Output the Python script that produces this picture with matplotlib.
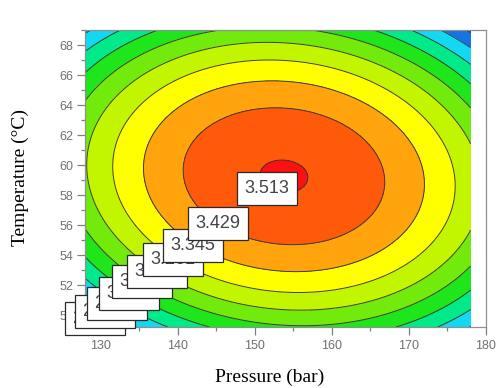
import numpy as np
import matplotlib
matplotlib.use("Agg")
import matplotlib.pyplot as plt
from matplotlib.patches import Rectangle
from matplotlib.ticker import MultipleLocator

# response surface (quadratic model, max near 154 bar / 59 C)
y_peak   = 3.518
p_peak   = 153.8
t_peak   = 59.25
k_p      = 5.25e-4      # curvature along pressure
k_t      = 4.31e-3      # curvature along temperature
k_pt     = -2.54e-4     # interaction

p_range = [128.0, 178.0]
t_range = [49.2, 69.0]

levels = [2.757, 2.841, 2.925, 3.009, 3.093, 3.177, 3.261, 3.345, 3.429, 3.513]
label_text = ["3.513", "3.429", "3.345", "3.261", "3.177",
              "3.093", "3.009", "2.925", "2.841", "2.757"]

band_colors = ["#0046c8", "#1673e6", "#12d8f4", "#00ea8a", "#1ee61a", "#72ea0c",
               "#c2f600", "#ffff00", "#ffa40c", "#ff5a0a", "#ff1010"]

# label boxes (figure pixels: left, top)
box_left = [237, 188, 163, 143, 127, 112, 99, 87, 75, 65]
box_top  = [172, 207, 229, 243, 255, 265, 277, 287, 295, 302]
box_w, box_h = 60, 33

W, H = 499, 388
fig = plt.figure(figsize=(W / 100, H / 100), dpi=100)
ax = fig.add_axes([85 / W, 1 - 327 / H, (486 - 85) / W, (327 - 30) / H])

P, T = np.meshgrid(np.linspace(*p_range, 301), np.linspace(*t_range, 301))
dP, dT = P - p_peak, T - t_peak
Z = y_peak - k_p * dP**2 - k_t * dT**2 + k_pt * dP * dT

bounds = [Z.min() - 1] + levels + [Z.max() + 1]
ax.contourf(P, T, Z, levels=bounds, colors=band_colors)
ax.contour(P, T, Z, levels=levels, colors="#3a3a3a", linewidths=0.7)

ax.set_xlim(128, 180)
ax.set_ylim(49.2, 69)
ax.set_xticks(range(130, 181, 10))
ax.set_yticks(range(50, 69, 2))
ax.xaxis.set_minor_locator(MultipleLocator(5))
ax.yaxis.set_minor_locator(MultipleLocator(1))
ax.tick_params(which="major", direction="out", length=5.5, width=0.9, color="#808080",
               labelcolor="#707070", labelsize=9, pad=3)
ax.tick_params(which="minor", direction="out", length=3, width=0.9, color="#808080")
ax.tick_params(axis="x", which="major", pad=4)
for lab in ax.get_xticklabels() + ax.get_yticklabels():
    lab.set_fontfamily("Liberation Sans")
for sp in ax.spines.values():
    sp.set_color("#909090")
    sp.set_linewidth(0.9)

fig.text(270 / W, 1 - 377 / H, "Pressure (bar)", family="Liberation Serif", fontsize=14,
         ha="center", va="center")
fig.text(20 / W, 1 - 178 / H, "Temperature (\u00b0C)", family="Liberation Serif", fontsize=14,
         ha="center", va="center", rotation=90)

# stacked contour labels, lowest level at the back
n = len(label_text)
for i, (txt, bl, bt) in enumerate(zip(label_text, box_left, box_top)):
    z = 5 + 2 * (n - i)
    fig.add_artist(Rectangle((bl / W, 1 - (bt + box_h) / H), box_w / W, box_h / H,
                             transform=fig.transFigure, facecolor="white",
                             edgecolor="#2a2a2a", linewidth=0.9, zorder=z))
    fig.text((bl + 7) / W, 1 - (bt + box_h / 2) / H, txt, family="Liberation Sans",
             fontsize=13, color="#444444", ha="left", va="center", zorder=z + 1)

fig.savefig("out.png", dpi=100)
